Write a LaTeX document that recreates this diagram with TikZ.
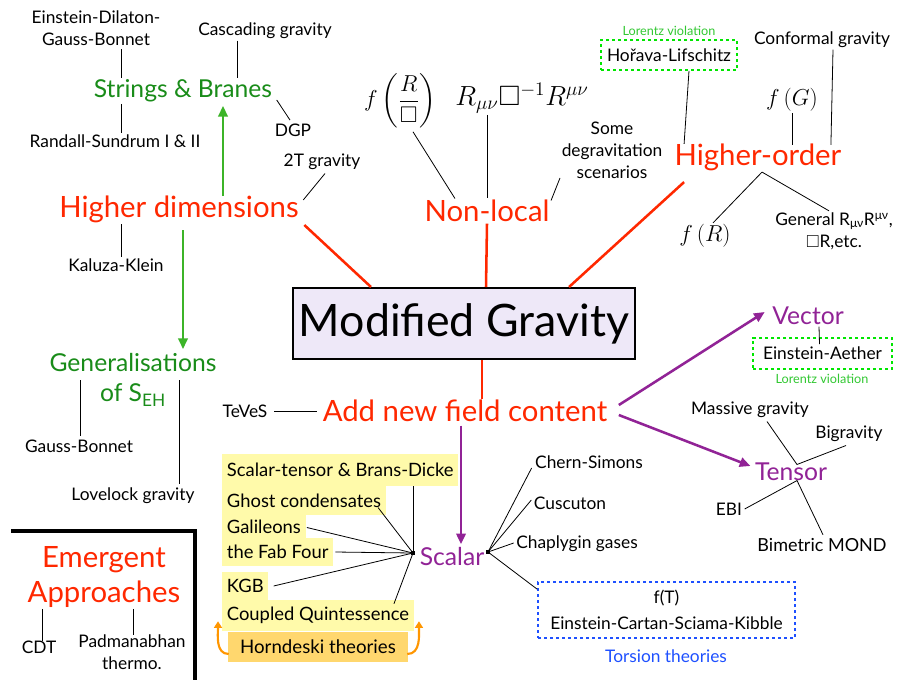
\documentclass[tikz,border=0pt]{standalone}
\usepackage{amssymb}
\usepackage{fontspec}
\setmainfont{Lato}
\usetikzlibrary{arrows.meta,calc}
\definecolor{redc}{RGB}{255,40,0}
\definecolor{grntxt}{RGB}{25,140,25}
\definecolor{grnarr}{RGB}{60,180,40}
\definecolor{lvg}{RGB}{50,200,50}
\definecolor{lvbox}{RGB}{0,230,0}
\definecolor{purp}{RGB}{145,35,150}
\definecolor{bluec}{RGB}{30,80,255}
\definecolor{yel}{RGB}{255,250,170}
\definecolor{hornc}{RGB}{255,215,110}
\definecolor{orng}{RGB}{255,150,0}
\definecolor{lav}{RGB}{238,232,248}
\tikzset{
  lbl/.style={font=\fontsize{13}{16.5}\selectfont, align=center, inner sep=1pt},
  major/.style={font=\fontsize{22}{26}\selectfont, text=redc, align=center, inner sep=1pt},
  grn/.style={font=\fontsize{18.5}{22.5}\selectfont, text=grntxt, align=center, inner sep=1pt},
  purpl/.style={font=\fontsize{18.5}{22}\selectfont, text=purp, inner sep=1pt},
  tinyg/.style={font=\fontsize{9.5}{11}\selectfont, text=lvg, inner sep=0pt},
  mth/.style={font=\fontsize{17}{20}\selectfont, inner sep=1pt},
  lvframe/.style={draw=lvbox, dashed, dash pattern=on 2.5pt off 2pt, line width=1.2pt},
  ynode/.style={lbl, font=\fontsize{13.8}{16.5}\selectfont, fill=yel, anchor=west, inner xsep=3.5pt, inner ysep=0pt},
  dotn/.style={fill=black, inner sep=0pt, minimum size=3.5pt},
  thinl/.style={draw=black, line width=0.6pt},
  redline/.style={draw=redc, line width=1.9pt},
  grnarrow/.style={draw=grnarr, line width=1.9pt, -{Triangle[length=8pt,width=7pt]}},
  purparrow/.style={draw=purp, line width=1.9pt, -{Triangle[length=8pt,width=7pt]}},
  orarrow/.style={draw=orng, line width=1.6pt, -{Triangle[length=5pt,width=6pt]}},
}
\begin{document}
\begin{tikzpicture}[x=0.75pt,y=-0.75pt]
\useasboundingbox (0,0) rectangle (898,679);
\fill[white] (0,0) rectangle (898,679);

% ---------- top-left: higher dimensions
\node[lbl] (edgb) at (96,28) {Einstein-Dilaton-\\Gauss-Bonnet};
\node[lbl] (casc) at (265,31) {Cascading gravity};
\node[grn] (sb) at (183,91) {Strings \& Branes};
\node[lbl] (rs) at (115,141) {Randall-Sundrum I \& II};
\node[lbl] (dgp) at (293,130) {DGP};
\node[lbl] (twoT) at (322,162) {2T gravity};
\node[major] (hd) at (179,209) {Higher dimensions};
\node[lbl] (kk) at (116,265) {Kaluza-Klein};

\draw[thinl] ($(edgb.south)+(25,2)$) -- ($(sb.north)+(-62,0)$);
\draw[thinl] ($(sb.south)+(-62,0)$) -- ($(rs.north)+(6,0)$);
\draw[thinl] ($(casc.south)+(-28,0)$) -- ($(sb.north)+(54,0)$);
\draw[thinl] ($(sb.east)+(3,9)$) -- ($(dgp.north)+(-3,-2)$);
\draw[thinl] ($(twoT.south)+(3,2)$) -- ($(hd.north east)+(3,6)$);
\draw[thinl] ($(hd.south)+(-58,0)$) -- ($(kk.north)+(5,0)$);
\draw[grnarrow] ($(hd.north)+(44,2)$) -- ($(sb.south)+(40,2)$);

% ---------- generalisations
\node[grn] (gen) at (133,380) {Generalisations\\of S\textsubscript{EH}};
\node[lbl] (gb) at (79,446) {Gauss-Bonnet};
\node[lbl] (lov) at (133,496) {Lovelock gravity};
\draw[grnarrow] ($(hd.south)+(4,6)$) -- ($(gen.north)+(50,-3)$);
\draw[thinl] ($(gen.north)+(-53,28)$) -- ($(gb.north)+(1,-2)$);
\draw[thinl] ($(gen.north)+(46,28)$) -- ($(lov.north)+(46,-2)$);

% ---------- emergent
\draw[line width=3pt] (11,531) -- (195,531) -- (195,681);
\node[major] (em) at (104,577) {Emergent\\Approaches};
\node[lbl] (cdt) at (39,647) {CDT};
\node[lbl] (pad) at (132,652) {Padmanabhan\\thermo.};
\draw[thinl] ($(em.south)+(-62,0)$) -- ($(cdt.north)+(3,2)$);
\draw[thinl] ($(em.south)+(29,0)$) -- ($(pad.north)+(1,2)$);

% ---------- centre box
\node[draw=black, line width=1.5pt, fill=lav, minimum width=256.5pt, minimum height=53.25pt,
      font=\fontsize{33.5}{37}\selectfont, inner sep=0pt] (mg) at (464,323.5) {Modified Gravity};
\draw[redline] ($(hd.east)+(4,16)$) -- ($(mg.north west)+(79,0)$);

% ---------- non-local
\node[mth] (frb) at (400,101) {$\displaystyle f\left(\frac{R}{\Box}\right)$};
\node[mth, font=\fontsize{21}{24}\selectfont] (rbr) at (522,98) {$R_{\mu\nu}\Box^{-1}R^{\mu\nu}$};
\node[lbl] (some) at (612,150) {Some\\degravitation\\scenarios};
\node[major] (nl) at (487,211) {Non-local};
\draw[thinl] ($(frb.south)+(13,2)$) -- ($(nl.north west)+(32,0)$);
\draw[thinl] ($(rbr.south)+(-35,0)$) -- (nl.north);
\draw[thinl] ($(some.south)+(-52,-2)$) -- ($(nl.north east)+(0,2)$);
\draw[redline] (nl.south) -- ($(mg.north)+(22,0)$);

% ---------- higher-order
\node[tinyg] (lv1) at (669,31) {Lorentz violation};
\node[lbl, lvframe, minimum width=102pt, minimum height=22.5pt] (hl) at (669,55) {Hořava-Lifschitz};
\node[lbl] (conf) at (822,40) {Conformal gravity};
\node[mth] (fg) at (792,100) {$f\left(G\right)$};
\node[major] (ho) at (758,157) {Higher-order};
\node[mth] (fr) at (705,236) {$f\left(R\right)$};
\node[lbl] (gen2) at (834,231) {General R\textsubscript{μν}R\textsuperscript{μν},\\$\square$R,etc.};
\draw[thinl] ($(hl.south)+(20,0)$) -- ($(ho.north west)+(11,2)$);
\draw[thinl] ($(conf.south)+(11,0)$) -- ($(ho.north east)+(-12,3)$);
\draw[thinl] (fg.south) -- ($(ho.north)+(34,3)$);
\draw[thinl] ($(ho.south)+(4,0)$) -- ($(fr.north)+(8,0)$);
\draw[thinl] ($(ho.south)+(4,0)$) -- ($(gen2.north)+(-5,0)$);
\draw[redline] ($(ho.south west)+(11,10)$) -- ($(mg.north east)+(-67,0)$);

% ---------- add new field content
\node[major] (add) at (465,411) {Add new field content};
\node[lbl] (teves) at (245,411) {TeVeS};
\draw[redline] ($(mg.south)+(18,0)$) -- ($(add.north)+(17,1)$);
\draw[thinl, shorten <=4pt, shorten >=3pt] (teves.east) -- (add.west);

% vector
\node[purpl] (vec) at (808,316) {Vector};
\node[lbl, lvframe, minimum width=104.25pt, minimum height=23.25pt] (ea) at (822.5,353.5) {Einstein-Aether};
\node[tinyg] (lv2) at (822,379) {Lorentz violation};
\draw[purparrow] ($(add.east)+(10,-6)$) -- ($(vec.west)+(-6,-4)$);
\draw[thinl] ($(vec.south)+(11,0)$) -- ($(ea.north)+(-3,7)$);

% tensor
\node[purpl] (ten) at (791,472) {Tensor};
\node[lbl] (mass) at (750,410) {Massive gravity};
\node[lbl] (bigr) at (849,434) {Bigravity};
\node[lbl] (ebi) at (729,509) {EBI};
\node[lbl, font=\fontsize{13.5}{16.5}\selectfont] (bim) at (822,545) {Bimetric MOND};
\draw[purparrow] ($(add.east)+(10,4)$) -- ($(ten.west)+(-3,-6)$);
\draw[thinl] ($(mass.south)+(17,2)$) -- ($(ten.north)+(6,3)$) -- ($(bigr.south)+(-3,2)$);
\draw[thinl] ($(ebi.east)+(1,0)$) -- ($(ten.south)+(6,-2)$) -- ($(bim.north)+(1,-2)$);

% yellow list
\node[ynode, minimum height=24pt] (st) at (222,470) {Scalar-tensor \& Brans-Dicke};
\node[ynode, minimum height=21.75pt] (gc) at (222,500.5) {Ghost condensates};
\node[ynode, minimum height=17.25pt] (gal) at (222,526.5) {Galileons};
\node[ynode, minimum height=21pt] (ff) at (222,552) {the Fab Four};
\node[ynode, minimum height=21pt] (kgb) at (222,586) {KGB};
\node[ynode, minimum height=23.25pt] (cq) at (222,615.5) {Coupled Quintessence};
\node[lbl, font=\fontsize{14}{16.5}\selectfont, fill=hornc, minimum width=135pt, minimum height=22.5pt] (hor) at (318,647) {Horndeski theories};

% scalar
\node[purpl] (scal) at (452,557) {Scalar};
\node[dotn] (dl) at (413,553) {};
\node[dotn] (dr) at (488,552) {};
\draw[purparrow] ($(add.south)+(-4,2)$) -- ($(scal.north)+(9,-2)$);

\node[lbl] (cs) at (589,462) {Chern-Simons};
\node[lbl] (cus) at (570,503) {Cuscuton};
\node[lbl] (chap) at (577,544) {Chaplygin gases};
\node[lbl, draw=bluec, dashed, dash pattern=on 2.5pt off 2pt, line width=1.2pt,
      minimum width=192.75pt, minimum height=42pt, font=\fontsize{13}{19}\selectfont] (tor) at (666.5,610)
      {f(T)\\Einstein-Cartan-Sciama-Kibble};
\node[lbl, text=bluec] (tt) at (666,656) {Torsion theories};
\draw[thinl] (dr.center) -- ($(cs.west)+(-2,6)$);
\draw[thinl] (dr.center) -- ($(cus.west)+(-1,-3)$);
\draw[thinl] (dr.center) -- ($(chap.west)+(-1,-1)$);
\draw[thinl] (dr.center) -- ($(tor.north west)+(0,8)$);

\draw[thinl] (dl.center) -- (st.south -| dl.center);
\draw[thinl] (dl.center) -- ($(gc.east)+(-8,7)$);
\draw[thinl] (dl.center) -- ($(gal.east)+(1,1)$);
\draw[thinl] (dl.center) -- ($(ff.east)+(2,0)$);
\draw[thinl] (dl.center) -- ($(kgb.east)+(5,0)$);
\draw[thinl] (dl.center) -- ($(cq.north east)+(-20,4)$);
\draw[orarrow] ($(hor.west)+(1,7)$) to[out=180,in=-90] ($(cq.south west)+(-4,-10)$);
\draw[orarrow] ($(hor.east)+(-1,7)$) to[out=0,in=-90] ($(cq.south east)+(5,-10)$);
\end{tikzpicture}
\end{document}
